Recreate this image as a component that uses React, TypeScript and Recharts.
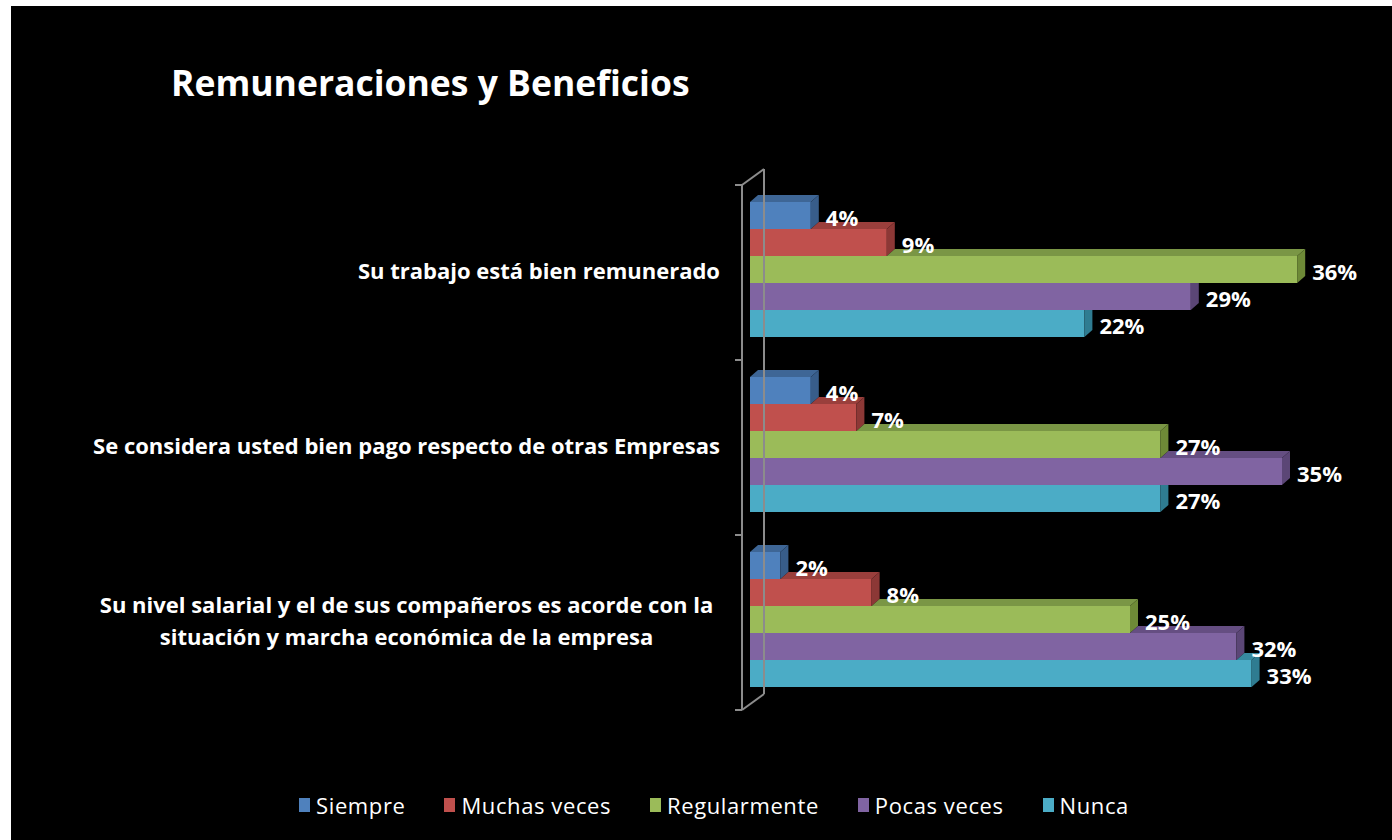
import React from 'react';
import { BarChart, Bar, XAxis, YAxis, LabelList, Legend, ReferenceLine } from 'recharts';

const categories = [
  'Su trabajo está bien remunerado',
  'Se considera usted bien pago respecto de otras Empresas',
  'Su nivel salarial y el de sus compañeros es acorde con la situación y marcha económica de la empresa',
];

const siempre = [4, 4, 2];
const muchasVeces = [9, 7, 8];
const regularmente = [36, 27, 25];
const pocasVeces = [29, 35, 32];
const nunca = [22, 27, 33];

const seriesNames = ['Siempre', 'Muchas veces', 'Regularmente', 'Pocas veces', 'Nunca'];
const seriesKeys = ['siempre', 'muchasVeces', 'regularmente', 'pocasVeces', 'nunca'];

// front / top / side colours for the fake 3D look
const COLORS = [
  { front: '#4F81BD', top: '#3E6696', side: '#385D8A' },
  { front: '#C0504D', top: '#9A3F3C', side: '#8C3836' },
  { front: '#9BBB59', top: '#7A9645', side: '#6E8A37' },
  { front: '#8064A2', top: '#654E82', side: '#5B4676' },
  { front: '#4BACC6', top: '#378AA0', side: '#2F7C91' },
];

const data = categories.map((name, i) => ({
  name,
  siempre: siempre[i],
  muchasVeces: muchasVeces[i],
  regularmente: regularmente[i],
  pocasVeces: pocasVeces[i],
  nunca: nunca[i],
}));

const DX = 8;
const DY = 7;
const FONT = '"Open Sans", Lato, sans-serif';

function make3DShape(idx: number) {
  return (props: any) => {
    const { x, y, width, height, payload, value } = props;
    if (!width || width <= 0) return <g />;
    const c = COLORS[idx];
    const v = Array.isArray(value) ? value[1] - value[0] : value;
    const pxPerUnit = v ? width / v : 0;
    const prevW = idx > 0 ? payload[seriesKeys[idx - 1]] * pxPerUnit : 0;
    const w = width;
    const h = height;
    const parts: React.ReactNode[] = [];
    parts.push(<rect key="f" x={x} y={y} width={w} height={h} fill={c.front} />);
    if (w > prevW) {
      const s = x + prevW;
      parts.push(
        <polygon
          key="t"
          points={`${s},${y} ${s + DX},${y - DY} ${x + w + DX},${y - DY} ${x + w},${y}`}
          fill={c.top}
        />
      );
      parts.push(
        <polygon
          key="s"
          points={`${x + w},${y} ${x + w + DX},${y - DY} ${x + w + DX},${y + h - DY} ${x + w},${y + h}`}
          fill={c.side}
        />
      );
    } else {
      parts.push(
        <polygon
          key="s"
          points={`${x + w},${y} ${x + w + DX},${y} ${x + w + DX},${y + h - DY} ${x + w},${y + h}`}
          fill={c.side}
        />
      );
    }
    return <g>{parts}</g>;
  };
}

const renderValueLabel = (props: any) => {
  const { x, y, width, height, value } = props;
  return (
    <text
      x={x + width + 15}
      y={y + height / 2 + 1}
      fill="#fff"
      fontSize={22}
      fontWeight="bold"
      fontFamily={FONT}
      dominantBaseline="central"
    >
      {`${value}%`}
    </text>
  );
};

function wrap(text: string, max: number) {
  const words = text.split(' ');
  const lines: string[] = [];
  let cur = '';
  words.forEach((w) => {
    const next = cur ? cur + ' ' + w : w;
    if (next.length > max && cur) {
      lines.push(cur);
      cur = w;
    } else {
      cur = next;
    }
  });
  if (cur) lines.push(cur);
  return lines;
}

const CategoryTick = (props: any) => {
  const { x, y, payload } = props;
  const lines = wrap(payload.value, 58);
  const right = x - 30;
  if (lines.length === 1) {
    return (
      <text x={right} y={y} textAnchor="end" dominantBaseline="central" fill="#fff" fontSize={22} fontWeight="bold" fontFamily={FONT}>
        {lines[0]}
      </text>
    );
  }
  const longest = Math.max(...lines.map((l) => l.length));
  const cx = right - (longest * 11) / 2;
  const lh = 32;
  return (
    <text textAnchor="middle" fill="#fff" fontSize={22} fontWeight="bold" fontFamily={FONT}>
      {lines.map((l, i) => (
        <tspan key={i} x={cx} y={y + (i - (lines.length - 1) / 2) * lh} dominantBaseline="central">
          {l}
        </tspan>
      ))}
    </text>
  );
};

// 3D style walls of the category axis
const AxisFrame = (props: any) => {
  const { x1, y1, y2 } = props;
  const fx = x1 - 8;
  const top = y1 + 3;
  const bottom = y2 + 3;
  const n = categories.length;
  const stroke = '#8c8c8c';
  const ticks = [];
  for (let i = 0; i <= n; i++) {
    const ty = top + ((bottom - top) * i) / n;
    ticks.push(<line key={i} x1={fx - 7} x2={fx} y1={ty} y2={ty} stroke={stroke} strokeWidth={2} />);
  }
  return (
    <g>
      <line x1={fx} x2={fx} y1={top} y2={bottom} stroke={stroke} strokeWidth={2} />
      <line x1={fx + 22} x2={fx + 22} y1={top - 16} y2={bottom - 16} stroke={stroke} strokeWidth={2} />
      <line x1={fx} x2={fx + 22} y1={top} y2={top - 16} stroke={stroke} strokeWidth={2} />
      <line x1={fx} x2={fx + 22} y1={bottom} y2={bottom - 16} stroke={stroke} strokeWidth={2} />
      {ticks}
    </g>
  );
};

const renderLegend = (props: any) => {
  const items = [...(props.payload || [])].sort(
    (a: any, b: any) => seriesNames.indexOf(a.value) - seriesNames.indexOf(b.value)
  );
  return (
    <div style={{ display: 'flex', justifyContent: 'center', paddingLeft: 25, fontFamily: FONT }}>
      {items.map((entry: any, i: number) => (
        <div key={i} style={{ display: 'flex', alignItems: 'center', marginRight: i < 4 ? 39 : 0 }}>
          <span style={{ display: 'inline-block', width: 11, height: 14, background: entry.color, marginRight: 6 }} />
          <span style={{ color: '#fff', fontSize: 22, letterSpacing: 0.6 }}>{entry.value}</span>
        </div>
      ))}
    </div>
  );
};

export default function App() {
  return (
    <div style={{ position: 'absolute', left: 11, top: 6, width: 1381, height: 834, background: '#000' }}>
      <div
        style={{
          position: 'absolute',
          left: 160,
          top: 54,
          color: '#fff',
          fontFamily: FONT,
          fontWeight: 'bold',
          fontSize: 35.5,
          lineHeight: '44px',
        }}
      >
        Remuneraciones y Beneficios
      </div>
      <BarChart
        width={1381}
        height={834}
        data={data}
        layout="vertical"
        margin={{ top: 176, right: 34, bottom: 133, left: 0 }}
        barSize={27}
        barGap={0}
      >
        <XAxis type="number" domain={[0, 40]} hide />
        <YAxis
          type="category"
          dataKey="name"
          width={739}
          axisLine={false}
          tickLine={false}
          tickSize={0}
          tickMargin={0}
          tick={<CategoryTick />}
          interval={0}
        />
        <ReferenceLine x={0} stroke="none" shape={<AxisFrame />} />
        {seriesKeys.map((k, i) => (
          <Bar key={k} dataKey={k} name={seriesNames[i]} fill={COLORS[i].front} shape={make3DShape(i)} isAnimationActive={false}>
            <LabelList dataKey={k} content={renderValueLabel} />
          </Bar>
        ))}
        <Legend verticalAlign="middle" align="center" layout="horizontal" content={renderLegend} wrapperStyle={{ top: 784, left: 0, width: 1381 }} />
      </BarChart>
    </div>
  );
}
